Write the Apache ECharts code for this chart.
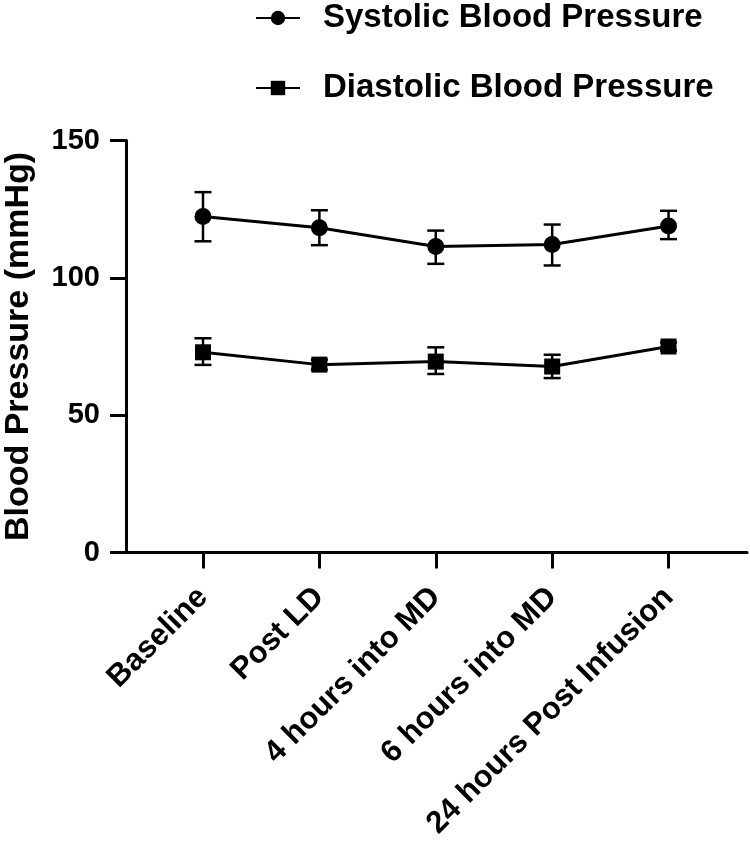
<!DOCTYPE html>
<html>
<head>
<meta charset="utf-8">
<script src="https://cdn.jsdelivr.net/npm/echarts@6/dist/echarts.min.js"></script>
<style>
html,body{margin:0;padding:0;background:#fff;}
#chart{width:750px;height:841px;}
</style>
</head>
<body>
<div id="chart"></div>
<script>
const categories = ['Baseline', 'Post LD', '4 hours into MD', '6 hours into MD', '24 hours Post Infusion'];
const systolic = [122.3, 118.2, 111.4, 112.1, 118.9];
const systolicLow = [113.3, 111.9, 105.1, 104.5, 114.1];
const systolicHigh = [131.2, 124.6, 117.2, 119.4, 124.4];
const diastolic = [72.9, 68.4, 69.5, 67.7, 75.0];
const diastolicLow = [68.3, 66.6, 65.0, 63.5, 73.5];
const diastolicHigh = [78.0, 70.2, 74.7, 72.0, 76.5];
const yMin = 0, yMax = 150, yStep = 50;

const FONT = '"Liberation Sans", Arial, sans-serif';
const catIdx = categories.map((c, i) => i);

function pts(vals) { return vals.map((v, i) => [i, v]); }
function errData(lo, hi) { return lo.map((l, i) => [i, l, hi[i]]); }

function renderErr(params, api) {
  const x = api.value(0), lo = api.value(1), hi = api.value(2);
  const a = api.coord([x, hi]), b = api.coord([x, lo]);
  const hw = 8.5;
  const st = { stroke: '#000', lineWidth: 2.5 };
  return {
    type: 'group',
    children: [
      { type: 'line', shape: { x1: a[0], y1: a[1], x2: b[0], y2: b[1] }, style: st },
      { type: 'line', shape: { x1: a[0] - hw, y1: a[1], x2: a[0] + hw, y2: a[1] }, style: st },
      { type: 'line', shape: { x1: b[0] - hw, y1: b[1], x2: b[0] + hw, y2: b[1] }, style: st }
    ]
  };
}

const chart = echarts.init(document.getElementById('chart'), null, { renderer: 'canvas' });
chart.setOption({
  animation: false,
  backgroundColor: '#fff',
  textStyle: { fontFamily: FONT },
  legend: {
    data: ['Systolic Blood Pressure', 'Diastolic Blood Pressure'],
    orient: 'vertical',
    left: 250,
    top: -4,
    itemWidth: 44,
    itemHeight: 18,
    itemGap: 36,
    textStyle: { fontFamily: FONT, fontSize: 33, fontWeight: 'bold', color: '#000', lineHeight: 34, padding: [0, 0, 0, 18] }
  },
  grid: { left: 126, right: 3, top: 140.5, bottom: 288.5, containLabel: false, outerBoundsMode: 'none' },
  xAxis: {
    type: 'value',
    min: -0.6615,
    max: 4.674,
    splitLine: { show: false },
    axisLine: { show: true, onZero: false, lineStyle: { color: '#000', width: 3 } },
    axisTick: { show: true, customValues: catIdx, length: 16, lineStyle: { color: '#000', width: 3 } },
    axisLabel: {
      customValues: catIdx,
      formatter: v => categories[Math.round(v)],
      rotate: 45,
      margin: 40,
      fontFamily: FONT, fontSize: 31, fontWeight: 'bold', color: '#000'
    }
  },
  yAxis: {
    type: 'value',
    min: yMin, max: yMax, interval: yStep,
    name: 'Blood Pressure (mmHg)',
    nameLocation: 'middle',
    nameRotate: 90,
    nameGap: 90,
    nameTextStyle: { fontFamily: FONT, fontSize: 34, fontWeight: 'bold', color: '#000' },
    splitLine: { show: false },
    axisLine: { show: true, onZero: false, lineStyle: { color: '#000', width: 3 } },
    axisTick: { show: true, length: 16, lineStyle: { color: '#000', width: 3 } },
    axisLabel: { margin: 26, fontFamily: FONT, fontSize: 29, fontWeight: 'bold', color: '#000' }
  },
  series: [
    {
      name: 'sysErr', type: 'custom', renderItem: renderErr,
      data: errData(systolicLow, systolicHigh), z: 2, silent: true
    },
    {
      name: 'diaErr', type: 'custom', renderItem: renderErr,
      data: errData(diastolicLow, diastolicHigh), z: 2, silent: true
    },
    {
      name: 'Systolic Blood Pressure', type: 'line', data: pts(systolic),
      symbol: 'circle', symbolSize: 17, z: 3,
      lineStyle: { color: '#000', width: 3 }, itemStyle: { color: '#000' }
    },
    {
      name: 'Diastolic Blood Pressure', type: 'line', data: pts(diastolic),
      symbol: 'rect', symbolSize: 16, z: 3,
      lineStyle: { color: '#000', width: 3 }, itemStyle: { color: '#000' }
    }
  ]
});
</script>
</body>
</html>
